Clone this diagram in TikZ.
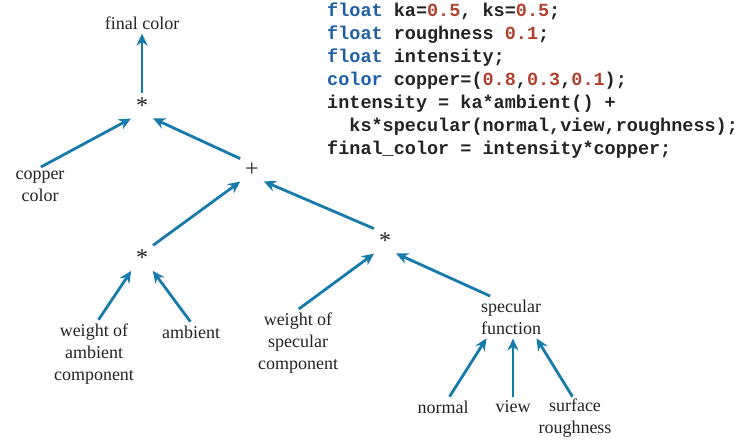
\documentclass[tikz,border=0pt]{standalone}
\usepackage{fontspec}
\setmainfont{Liberation Serif}
\newfontfamily\codefont{Liberation Mono}
\usetikzlibrary{arrows.meta}
\definecolor{arr}{RGB}{22,122,170}
\definecolor{kw}{RGB}{30,95,165}
\definecolor{num}{RGB}{175,65,45}
\definecolor{txt}{RGB}{35,35,35}
\newcommand{\K}[1]{\textcolor{kw}{#1}}
\newcommand{\N}[1]{\textcolor{num}{#1}}
\begin{document}
\begin{tikzpicture}[x=1pt,y=-1pt,
  lab/.style={font=\fontsize{18}{22}\selectfont, align=center, text=txt, inner sep=3pt},
  op/.style={font=\fontsize{24}{24}\selectfont, text=txt, inner sep=4pt},
  ar/.style={draw=arr, line width=2.8pt, -{Stealth[length=12pt,width=11pt]}, shorten >=1pt, shorten <=1pt}]
\useasboundingbox (0,0) rectangle (747,445);
\node[lab] (fc) at (142,23) {final color};
\node[op] (m1) at (142,106) {*};
\node[lab] (cc) at (40,186) {copper\\color};
\node[op] (pl) at (252,170) {+};
\node[op] (m2) at (142,258) {*};
\node[op] (m3) at (385,241) {*};
\node[lab] (wa) at (94,354) {weight of\\ambient\\component};
\node[lab] (am) at (191,332) {ambient};
\node[lab] (ws) at (298,343) {weight of\\specular\\component};
\node[lab] (sf) at (511,317) {specular\\function};
\node[lab] (no) at (443,407) {normal};
\node[lab] (vi) at (513,407) {view};
\node[lab] (sr) at (575,418) {surface\\roughness};
\draw[ar] (m1.north) -- (fc.south);
\draw[ar] (cc.north) -- (m1.south west);
\draw[ar] (pl.north west) -- (m1.south east);
\draw[ar] (m2.north east) -- (pl.south west);
\draw[ar] (m3.north west) -- (pl.south east);
\draw[ar] ([xshift=4pt]wa.north) -- (m2.south west);
\draw[ar] (am.north) -- (m2.south east);
\draw[ar] (ws.north) -- (m3.south west);
\draw[ar] ([xshift=-20pt]sf.north) -- (m3.south east);
\draw[ar] ([xshift=6pt]no.north) -- ([xshift=-24pt]sf.south);
\draw[ar] (vi.north) -- ([xshift=2pt]sf.south);
\draw[ar] ([xshift=-2pt,yshift=-2pt]sr.north) -- ([xshift=25pt]sf.south);
\node[anchor=north west, align=left, inner sep=0pt, text=txt,
  font=\codefont\bfseries\fontsize{18.5}{23}\selectfont] (code) at (327,3) {%
\K{float} ka=\N{0.5}, ks=\N{0.5};\\
\K{float} roughness \N{0.1};\\
\K{float} intensity;\\
\K{color} copper=(\N{0.8},\N{0.3},\N{0.1});\\
intensity = ka*ambient() +\\
\ \ ks*specular(normal,view,roughness);\\
final\_color = intensity*copper;};
\end{tikzpicture}
\end{document}
